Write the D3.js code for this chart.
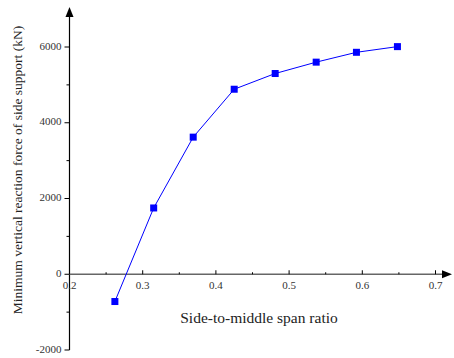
<!DOCTYPE html>
<html>
<head>
  <script src="https://d3js.org/d3.v7.min.js"></script>
  <style>
    body { margin: 0; background: #fff; }
    text { font-family: "Liberation Serif", "DejaVu Serif", serif; }
    .tick-label { font-size: 11px; fill: #333; }
    .axis-title { font-size: 13.5px; fill: #222; }
  </style>
</head>
<body>
  <svg id="chart" width="454" height="358"></svg>
  <script>
    // data
    const ratios = [0.262, 0.315, 0.369, 0.425, 0.481, 0.537, 0.592, 0.648];
    const forces = [-720, 1750, 3620, 4885, 5300, 5600, 5860, 6010];
    const xTicks = [0.2, 0.3, 0.4, 0.5, 0.6, 0.7];
    const xMinorTicks = [0.25, 0.35, 0.45, 0.55, 0.65];
    const yTicks = [-2000, 0, 2000, 4000, 6000];
    const yMinorTicks = [-1000, 1000, 3000, 5000];

    const svg = d3.select("#chart");

    const x = d3.scaleLinear().domain([0.2, 0.7]).range([69.5, 435.5]);
    const y = d3.scaleLinear().domain([-2000, 6000]).range([350, 47]);

    // y axis (black, with arrow)
    svg.append("line")
      .attr("x1", x(0.2)).attr("x2", x(0.2))
      .attr("y1", y(-2000)).attr("y2", 14)
      .attr("stroke", "#000").attr("stroke-width", 1.2);
    svg.append("path")
      .attr("d", `M${x(0.2)},7 L${x(0.2) - 4},17 L${x(0.2) + 4},17 Z`)
      .attr("fill", "#000");

    yTicks.forEach(v => {
      svg.append("line")
        .attr("x1", x(0.2) - 5).attr("x2", x(0.2))
        .attr("y1", y(v)).attr("y2", y(v))
        .attr("stroke", "#000");
      svg.append("text")
        .attr("class", "tick-label")
        .attr("x", x(0.2) - 8).attr("y", y(v))
        .attr("text-anchor", "end").attr("dominant-baseline", "middle")
        .text(v);
    });
    yMinorTicks.forEach(v => {
      svg.append("line")
        .attr("x1", x(0.2) - 3).attr("x2", x(0.2))
        .attr("y1", y(v)).attr("y2", y(v))
        .attr("stroke", "#000");
    });

    // x axis at zero (grey, with arrow)
    svg.append("line")
      .attr("x1", x(0.2)).attr("x2", 444)
      .attr("y1", y(0)).attr("y2", y(0))
      .attr("stroke", "#666").attr("stroke-width", 1.5);
    svg.append("path")
      .attr("d", `M452,${y(0)} L442,${y(0) - 4} L442,${y(0) + 4} Z`)
      .attr("fill", "#000");

    xTicks.forEach(v => {
      svg.append("line")
        .attr("x1", x(v)).attr("x2", x(v))
        .attr("y1", y(0) - 4).attr("y2", y(0))
        .attr("stroke", "#000");
      svg.append("text")
        .attr("class", "tick-label")
        .attr("x", x(v)).attr("y", y(0) + 15)
        .attr("text-anchor", "middle")
        .text(d3.format(".1f")(v));
    });
    xMinorTicks.forEach(v => {
      svg.append("line")
        .attr("x1", x(v)).attr("x2", x(v))
        .attr("y1", y(0) - 2).attr("y2", y(0))
        .attr("stroke", "#000");
    });

    // titles
    svg.append("text")
      .attr("class", "axis-title")
      .attr("x", 259).attr("y", 323)
      .attr("text-anchor", "middle")
      .style("font-size", "15.5px")
      .text("Side-to-middle span ratio");
    svg.append("text")
      .attr("class", "axis-title")
      .attr("transform", "translate(22,170) rotate(-90)")
      .attr("text-anchor", "middle")
      .text("Minimum vertical reaction force of side support (kN)");

    // series
    const pts = ratios.map((r, i) => [r, forces[i]]);
    svg.append("path")
      .datum(pts)
      .attr("fill", "none")
      .attr("stroke", "#0000ff")
      .attr("stroke-width", 1)
      .attr("d", d3.line().x(d => x(d[0])).y(d => y(d[1])));

    svg.selectAll("rect.pt")
      .data(pts)
      .enter().append("rect")
      .attr("class", "pt")
      .attr("x", d => x(d[0]) - 3.5)
      .attr("y", d => y(d[1]) - 3.5)
      .attr("width", 7).attr("height", 7)
      .attr("fill", "#0000ff");
  </script>
</body>
</html>
